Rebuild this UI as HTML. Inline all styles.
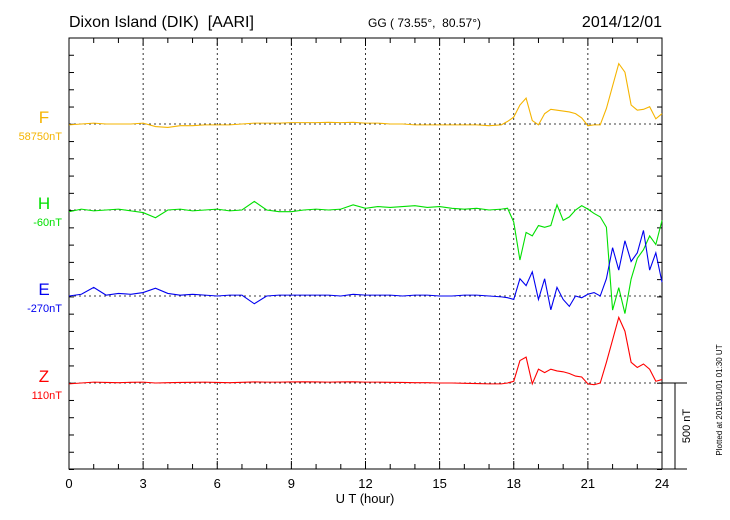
<!DOCTYPE html>
<html><head><meta charset="utf-8"><style>
body{margin:0;background:#fff}
svg{display:block;font-family:"Liberation Sans",sans-serif}
</style></head><body>
<svg id="c" width="730" height="520">
<text x="69" y="27" font-size="16">Dixon Island (DIK)&#160; [AARI]</text>
<text x="368" y="27" font-size="12">GG ( 73.55°,&#160; 80.57°)</text>
<text x="662" y="27" font-size="16" text-anchor="end">2014/12/01</text>
<text x="365" y="503" font-size="13" text-anchor="middle">U T (hour)</text>
<text x="722" y="400" font-size="8" text-anchor="middle" transform="rotate(-90 722 400)">Plotted at 2015/01/01 01:30 UT</text>
<text x="690" y="426" font-size="11" text-anchor="middle" transform="rotate(-90 690 426)">500 nT</text>
<g id="g"></g>
</svg>
<script>
const hours=[0,0.5,1,1.5,2,2.5,3,3.5,4,4.5,5,5.5,6,6.5,7,7.5,8,8.5,9,9.5,10,10.5,11,11.5,12,12.5,13,13.5,14,14.5,15,15.5,16,16.5,17,17.5,
17.75,18,18.25,18.5,18.75,19,19.25,19.5,19.75,20,20.25,20.5,20.75,21,21.25,21.5,21.75,22,22.25,22.5,22.75,23,23.25,23.5,23.75,24];
const fVals=[-5,0,5,0,0,0,5,-15,-20,-10,-10,-5,-5,-5,0,5,5,5,8,8,8,10,8,10,5,5,0,0,-5,-5,-5,-5,-5,-5,-10,-5,
15,40,110,150,20,-5,60,85,80,75,70,60,35,-10,-5,-5,90,220,350,300,110,80,85,100,30,60];
const hVals=[-10,5,-5,0,5,-5,-15,-45,0,5,-5,0,5,-5,0,50,0,-10,-10,0,5,0,5,30,10,20,15,20,25,15,20,10,5,10,0,5,
10,-70,-290,-130,-150,-90,-100,-90,30,-60,-40,0,25,5,-20,-40,-100,-580,-450,-600,-400,-280,-230,-150,-200,-60];
const eVals=[0,10,50,5,15,10,20,45,15,5,10,5,0,5,5,-45,0,5,5,5,5,5,0,10,5,5,5,0,5,5,0,0,5,5,0,-5,
-10,-20,100,60,140,-20,100,-80,50,-20,-60,0,-10,10,20,0,100,280,150,320,200,250,380,150,250,80];
const zVals=[-5,0,5,3,2,4,5,0,2,3,4,5,3,2,4,6,5,5,6,7,6,5,6,7,5,5,4,3,2,2,0,0,-2,-3,-5,-5,
0,10,130,150,-5,80,60,80,70,65,55,40,35,-5,-10,0,120,250,380,300,120,90,110,80,10,20];
const xTicks=[0,3,6,9,12,15,18,21,24];
const series=[{n:'F',v:fVals,c:'#f5b400',base:124,lab:'58750nT'},{n:'H',v:hVals,c:'#00e000',base:210,lab:'-60nT'},
{n:'E',v:eVals,c:'#0000f0',base:296,lab:'-270nT'},{n:'Z',v:zVals,c:'#ff0000',base:383,lab:'110nT'}];
const L=69,R=662,T=38,B=469,K=86.3/500;
const X=h=>L+(R-L)*h/24, Y=(b,v)=>b-v*K;
const g=document.getElementById('g');const NS='http://www.w3.org/2000/svg';
function mk(t,a){const e=document.createElementNS(NS,t);for(const k in a)e.setAttribute(k,a[k]);g.appendChild(e);return e;}
for(const h of xTicks){if(h>0&&h<24){const l=mk('line',{x1:X(h),x2:X(h),y1:T,y2:B,stroke:'#000','stroke-width':0.8,'stroke-dasharray':'2,3'});

}
const t=mk('text',{x:X(h),y:488,'font-size':13,'text-anchor':'middle'});t.textContent=h;

}
for(let h=0;h<=24;h++){const len=h%3==0?8:5;
mk('line',{x1:X(h),x2:X(h),y1:T,y2:T+len,stroke:'#000'});mk('line',{x1:X(h),x2:X(h),y1:B,y2:B-len,stroke:'#000'});}
for(let y=T;y<=B+1;y+=86.3/5){mk('line',{x1:L,x2:L+5,y1:y,y2:y,stroke:'#000'});mk('line',{x1:R,x2:R-5,y1:y,y2:y,stroke:'#000'});}
const fr=mk('rect',{x:L,y:T,width:R-L,height:B-T,fill:'none',stroke:'#000','stroke-width':1});


mk('line',{x1:R,x2:687,y1:B,y2:B,stroke:'#000'});
mk('line',{x1:R,x2:687,y1:383,y2:383,stroke:'#000'});
const sb=mk('line',{x1:675,x2:675,y1:383,y2:B,stroke:'#000'});


for(const s of series){
const bl=mk('line',{x1:L,x2:R,y1:s.base,y2:s.base,stroke:'#000','stroke-width':0.8,'stroke-dasharray':'2,3'});


const p=mk('polyline',{points:hours.map((h,i)=>X(h)+','+Y(s.base,s.v[i])).join(' '),fill:'none',stroke:s.c,'stroke-width':1.1});


const t=mk('text',{x:44,y:s.base-1,'font-size':17,fill:s.c,'text-anchor':'middle'});t.textContent=s.n;


const t2=mk('text',{x:62,y:s.base+16,'font-size':11,fill:s.c,'text-anchor':'end'});t2.textContent=s.lab;


}
</script>
</body></html>
